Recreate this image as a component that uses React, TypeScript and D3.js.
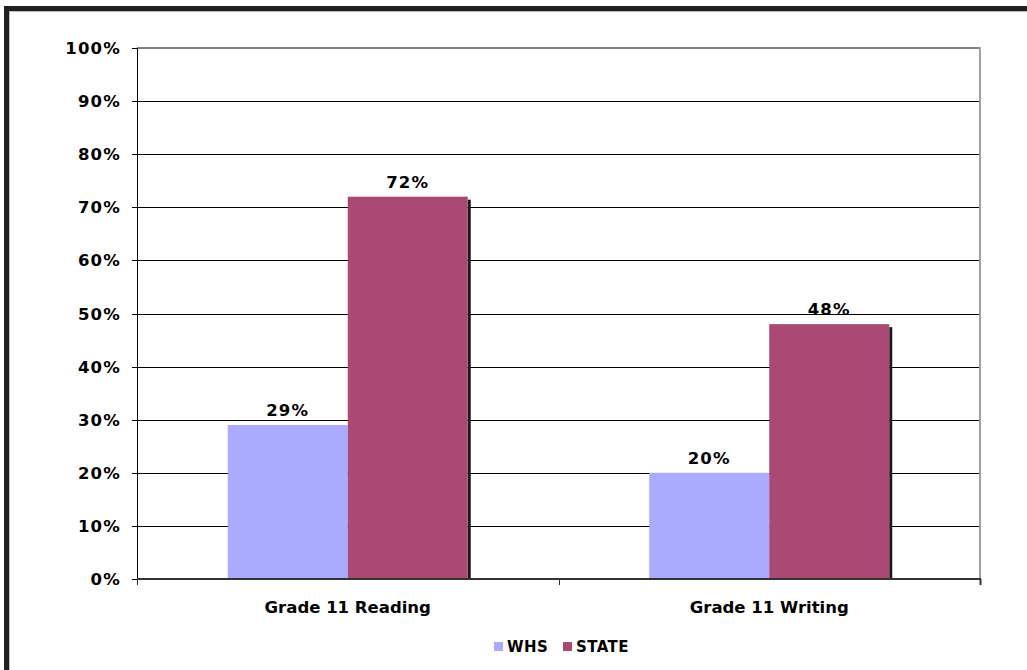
import React from "react";
import * as d3 from "d3";

const categories = ["Grade 11 Reading", "Grade 11 Writing"];
const seriesNames = ["WHS", "STATE"];
const whsValues = [29, 20];
const stateValues = [72, 48];
const yTicks = [0, 10, 20, 30, 40, 50, 60, 70, 80, 90, 100];
const colors = ["#AAAAFF", "#A94974"];

const FONT = "'DejaVu Sans', Verdana, sans-serif";

export default function App() {
  const W = 1027, H = 670;
  const left = 137, right = 980, top = 48, bottom = 579;
  const x0 = d3.scaleBand<string>().domain(categories).range([left, right]).paddingInner(0).paddingOuter(0);
  const y = d3.scaleLinear().domain([0, 100]).range([bottom, top]);
  const bw = 120;
  const groupOffset = (x0.bandwidth() - bw * 2) / 2;
  const series = [whsValues, stateValues];

  return (
    <svg width={W} height={H} style={{ position: "fixed", left: 0, top: 0, background: "#fff" }} fontFamily={FONT}>
      <rect x={0} y={0} width={W} height={H} fill="#fff" />
      {/* outer frame */}
      <line x1={4} x2={W} y1={8.5} y2={8.5} stroke="#231f20" strokeWidth={5} />
      <line x1={6.5} x2={6.5} y1={6} y2={H} stroke="#231f20" strokeWidth={5} />
      <line x1={9.5} x2={9.5} y1={11} y2={H} stroke="#bbb" strokeWidth={1} />
      <line x1={9} x2={W} y1={11.5} y2={11.5} stroke="#bbb" strokeWidth={1} />

      {/* gridlines */}
      {yTicks.filter(t => t > 0 && t < 100).map(t => (
        <line key={t} x1={left} x2={right} y1={Math.round(y(t)) + 0.5} y2={Math.round(y(t)) + 0.5} stroke="#000" strokeWidth={1} />
      ))}
      {/* plot border top/right */}
      <line x1={left} x2={right + 1} y1={top} y2={top} stroke="#808080" strokeWidth={2} />
      <line x1={right} x2={right} y1={top - 1} y2={bottom} stroke="#a0a0a0" strokeWidth={2} />

      {/* bars */}
      {categories.map((c, ci) => (
        <g key={c}>
          {series.map((vals, si) => {
            const bx = (x0(c) as number) + groupOffset + si * bw;
            const by = y(vals[ci]);
            return (
              <g key={si}>
                {si === 1 && (
                  <rect x={bx + bw} y={by + 3} width={3} height={bottom - by - 3} fill="#1a1a1a" />
                )}
                <rect x={bx} y={by} width={bw} height={bottom - by} fill={colors[si]} />
                <text x={bx + bw / 2} y={by - 9} textAnchor="middle" fontSize={16.5} letterSpacing={1.2} fontWeight="bold" fill="#000">
                  {vals[ci]}%
                </text>
              </g>
            );
          })}
        </g>
      ))}

      {/* axes */}
      <line x1={left + 0.5} x2={left + 0.5} y1={top} y2={bottom + 5} stroke="#000" strokeWidth={1} />
      <line x1={left} x2={right + 1} y1={bottom} y2={bottom} stroke="#333" strokeWidth={2} />
      {yTicks.map(t => (
        <g key={t}>
          <line x1={132} x2={left} y1={Math.round(y(t)) + 0.5} y2={Math.round(y(t)) + 0.5} stroke="#000" strokeWidth={1} />
          <text x={121} y={y(t) + 6} textAnchor="end" fontSize={16.5} letterSpacing={1.2} fontWeight="bold" fill="#000">{t}%</text>
        </g>
      ))}
      {[...categories.map(c => x0(c) as number), right].map((xv, i) => (
        <line key={i} x1={Math.round(xv) + 0.5} x2={Math.round(xv) + 0.5} y1={bottom} y2={bottom + 6} stroke="#333" strokeWidth={i === categories.length ? 2 : 1} />
      ))}
      {categories.map(c => (
        <text key={c} x={(x0(c) as number) + x0.bandwidth() / 2} y={613} textAnchor="middle" fontSize={16.5} fontWeight="bold" fill="#000">{c}</text>
      ))}

      {/* legend */}
      {seriesNames.map((n, i) => {
        const lx = [494, 563][i];
        return (
          <g key={n}>
            <rect x={lx} y={642} width={9} height={9} fill={colors[i]} />
            <text x={lx + 13} y={652} fontSize={15} letterSpacing={0.4} fontWeight="bold" fill="#000">{n}</text>
          </g>
        );
      })}
    </svg>
  );
}
